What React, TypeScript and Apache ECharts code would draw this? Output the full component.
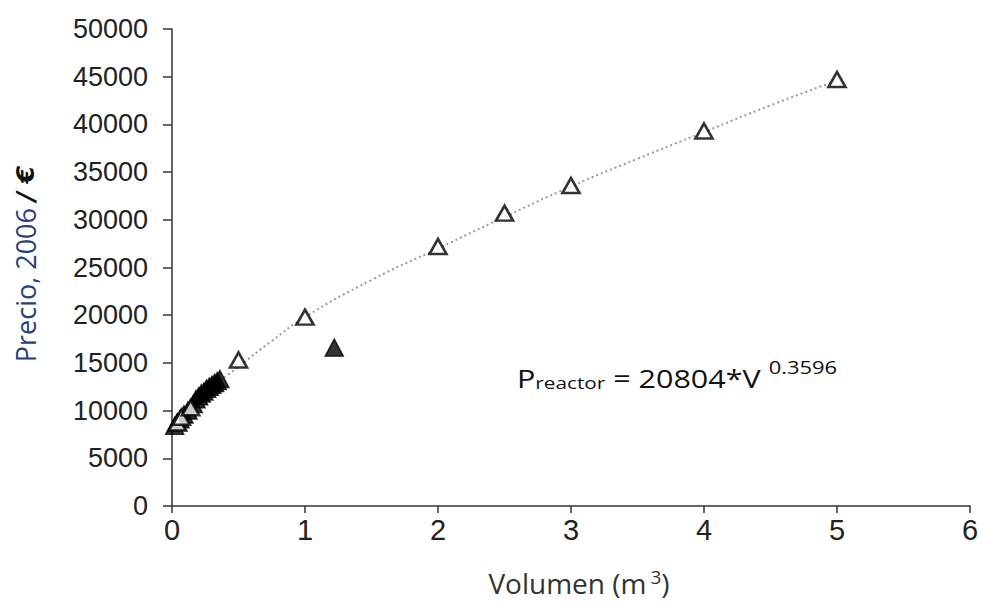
import React, { useEffect, useRef } from "react";
import * as echarts from "echarts";

const openVol = [0.04, 0.07, 0.14, 0.5, 1, 2, 2.5, 3, 4, 5];
const openPrice = [8700, 9300, 10300, 15300, 19800, 27200, 30700, 33600, 39300, 44700];

const filledVol = [0.02, 0.04, 0.06, 0.09, 0.12, 0.16, 0.18, 0.2, 0.22, 0.24, 0.26, 0.28, 0.3, 0.32, 0.34, 0.36, 1.22];
const filledPrice = [8400, 8800, 9100, 9600, 10000, 10700, 11200, 11500, 11800, 12000, 12300, 12500, 12700, 12900, 13100, 13300, 16600];

const trendVol = [0.02, 0.1, 0.25, 0.5, 0.75, 1, 1.5, 2, 2.5, 3, 3.5, 4, 4.5, 5];
const trendPrice = [8300, 9600, 11800, 14600, 17300, 19800, 23700, 27000, 30300, 33500, 36400, 39200, 42000, 44600];

const yTicks = [0, 5000, 10000, 15000, 20000, 25000, 30000, 35000, 40000, 45000, 50000];
const xTicks = [0, 1, 2, 3, 4, 5, 6];

export default function App() {
  const ref = useRef<HTMLDivElement>(null);
  useEffect(() => {
    if (!ref.current) return;
    const chart = echarts.init(ref.current, null, { renderer: "svg" });
    chart.setOption({
      animation: false,
      backgroundColor: "#fff",
      grid: { left: 172, right: 13, top: 29, bottom: 98, containLabel: false },
      xAxis: {
        type: "value",
        min: xTicks[0],
        max: xTicks[xTicks.length - 1],
        interval: 1,
        axisLine: { show: true, lineStyle: { color: "#333", width: 1.5 } },
        axisTick: { show: true, inside: false, length: 7, lineStyle: { color: "#333", width: 1.5 } },
        axisLabel: { fontFamily: "Liberation Sans", fontSize: 29, color: "#222", margin: 9, formatter: (v: number) => String(v) },
        splitLine: { show: false },
      },
      yAxis: {
        type: "value",
        min: yTicks[0],
        max: yTicks[yTicks.length - 1],
        interval: 5000,
        axisLine: { show: true, lineStyle: { color: "#333", width: 1.5 } },
        axisTick: { show: true, inside: false, length: 9, lineStyle: { color: "#333", width: 1.5 } },
        axisLabel: { fontFamily: "Liberation Sans", fontSize: 27, color: "#222", margin: 24, formatter: (v: number) => String(v) },
        splitLine: { show: false },
      },
      series: [
        {
          type: "line",
          data: trendVol.map((v, i) => [v, trendPrice[i]]),
          smooth: true,
          showSymbol: false,
          lineStyle: { color: "#9a9a9a", width: 2, type: [2, 3] },
          z: 1,
        },
        {
          type: "scatter",
          data: filledVol.map((v, i) => [v, filledPrice[i]]),
          symbol: "triangle",
          symbolSize: [18, 17],
          itemStyle: { color: "#000", borderColor: "#000", borderWidth: 1.5 },
          z: 3,
        },
        {
          type: "scatter",
          data: openVol.map((v, i) => [v, openPrice[i]]),
          symbol: "triangle",
          symbolSize: [17, 15],
          itemStyle: { color: "#fff", borderColor: "#000", borderWidth: 2.6 },
          z: 4,
        },
      ],
      graphic: [
        {
          type: "text",
          x: 25,
          y: 264,
          rotation: Math.PI / 2,
          style: {
            text: "{a|Precio, 2006 }{b|/ €}",
            align: "center",
            verticalAlign: "middle",
            rich: {
              a: { fontFamily: "Open Sans", fontSize: 27, fill: "#27407a", color: "#27407a" },
              b: { fontFamily: "DejaVu Sans", fontSize: 25, fontWeight: "bold", fontStyle: "italic", fill: "#111", color: "#111" },
            },
          },
        },
        {
          type: "text",
          x: 579,
          y: 583,
          style: {
            text: "{a|Volumen (m}{s|3}{a|)}",
            align: "center",
            verticalAlign: "middle",
            rich: {
              a: { fontFamily: "Open Sans", fontSize: 28, fill: "#333", color: "#333" },
              s: { fontFamily: "Open Sans", fontSize: 19, fill: "#333", color: "#333", verticalAlign: "top", padding: [0, 0, 12, 4] },
            },
          },
        },
        {
          type: "text",
          x: 517,
          y: 378,
          scaleX: 1.22,
          style: {
            text: "{p|P}{sub|reactor}{p| = 20804*V }{sup|0.3596}",
            align: "left",
            verticalAlign: "middle",
            rich: {
              p: { fontFamily: "Open Sans", fontSize: 25, fill: "#111", color: "#111" },
              sub: { fontFamily: "Open Sans", fontSize: 17, fill: "#111", color: "#111", padding: [10, 0, 0, 0] },
              sup: { fontFamily: "Open Sans", fontSize: 18, fill: "#111", color: "#111", padding: [0, 0, 22, 0] },
            },
          },
        },
      ],
    });
    return () => chart.dispose();
  }, []);
  return <div ref={ref} style={{ width: 983, height: 604, position: "fixed", left: 0, top: 0 }} />;
}
